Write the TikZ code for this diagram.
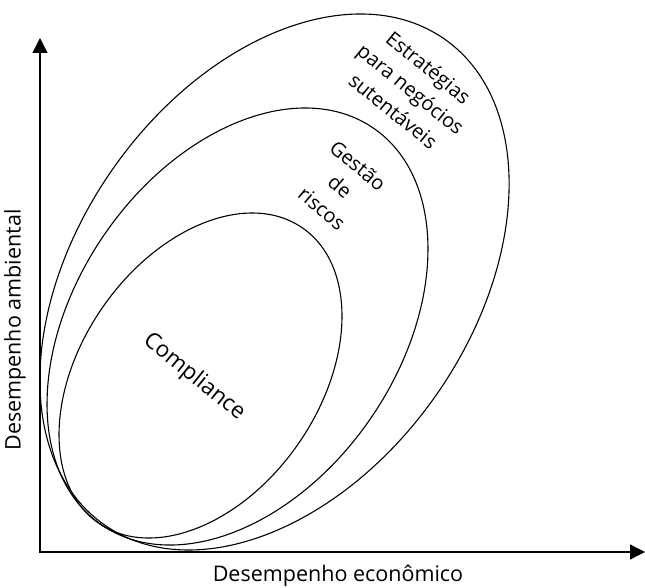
\documentclass[tikz,border=0pt]{standalone}
\usepackage{fontspec}
\setmainfont{Open Sans}
\usetikzlibrary{arrows.meta}
\begin{document}
\begin{tikzpicture}[x=1pt,y=1pt,
  axis/.style={line width=1.4pt, -{Triangle[length=15pt,width=15pt]}},
  zone/.style={line width=1.1pt},
  axislabel/.style={font=\fontsize{21.5}{25}\selectfont, inner sep=0pt},
  zonelabel/.style={font=\fontsize{20}{28}\selectfont, align=center, inner sep=0pt},
  biglabel/.style={font=\fontsize{22.5}{26}\selectfont, inner sep=0pt}]
  \useasboundingbox (0,0) rectangle (645,587);

  % axes
  \coordinate (origin) at (40,35);
  \coordinate (ytip) at (40,549);
  \coordinate (xtip) at (645,35);
  \draw[axis] ([yshift=-0.7pt]origin) -- (ytip);
  \draw[axis] ([xshift=-0.7pt]origin) -- (xtip);

  % nested strategy regions
  \coordinate (cOuter) at (274.5,305);
  \coordinate (cMiddle) at (237.5,260.5);
  \coordinate (cInner) at (200.5,211.5);
  \draw[zone, rotate around={55:(cOuter)}] (cOuter) ellipse [x radius=296.5, y radius=197.3];
  \draw[zone, rotate around={55.6:(cMiddle)}] (cMiddle) ellipse [x radius=240.5, y radius=161.8];
  \draw[zone, rotate around={55.4:(cInner)}] (cInner) ellipse [x radius=179.4, y radius=119.3];

  % labels
  \node[axislabel, rotate=90] (ylab) at (15,257) {Desempenho ambiental};
  \node[axislabel] (xlab) at (338,11) {Desempenho econômico};
  \node[biglabel, rotate=-39] (compliance) at (194,210) {Compliance};
  \node[zonelabel, rotate=-40] (riscos) at (340,400) {Gestão\\de\\riscos};
  \node[zonelabel, rotate=-39] (estrategias) at (411,498) {Estratégias\\para negócios\\sutentáveis};
\end{tikzpicture}
\end{document}
